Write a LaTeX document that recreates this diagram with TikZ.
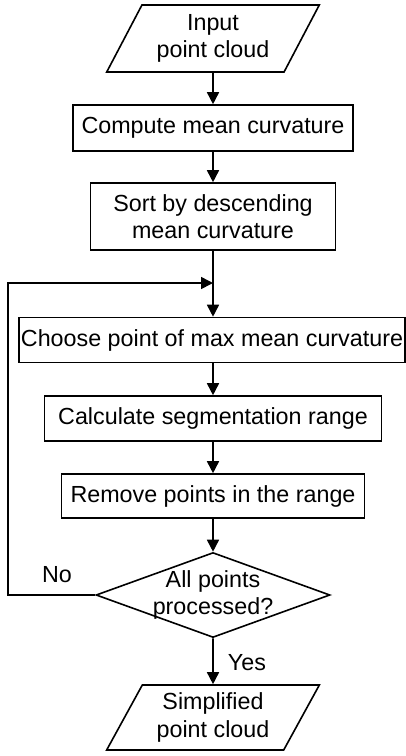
\documentclass[tikz,border=0pt]{standalone}
\usepackage{fontspec}
\setmainfont{Liberation Sans}
\usepackage{tikz}
\usetikzlibrary{shapes.geometric,arrows.meta}

\begin{document}
\begin{tikzpicture}[x=1pt, y=-1pt, line width=1.6pt,
    >={Triangle[length=12pt,width=12pt]},
    every node/.style={font=\fontsize{23.3}{27.5}\selectfont, align=center},
    proc/.style={draw, rectangle, inner sep=0pt},
    io/.style={draw, trapezium, trapezium left angle=60, trapezium right angle=120,
      trapezium stretches=true, minimum width=213pt, inner sep=0pt}]
    \useasboundingbox (0,0) rectangle (406,756);
    % flow
    \node (inp) at (213,38.5) [io, minimum height=67pt] {Input\\point cloud};
    \node (comp) at (213,128) [proc, minimum width=280pt, minimum height=46pt] {Compute mean curvature};
    \node (sort) at (213,216.5) [proc, minimum width=245pt, minimum height=67pt] {Sort by descending\\mean curvature};
    \coordinate (join) at (213,283);
    \node (choose) at (212,340) [proc, minimum width=386pt, minimum height=45pt] {Choose point of max mean curvature};
    \node (calc) at (213,418.5) [proc, minimum width=337pt, minimum height=45pt] {Calculate segmentation range};
    \node (rem) at (213,496) [proc, minimum width=303pt, minimum height=44pt] {Remove points in the range};
    \node (chk) at (213,595) [draw, diamond, minimum width=234pt, minimum height=85pt, inner sep=0pt] {};
    \node (chktxt) at (chk) {All points\\processed?};
    \node (outp) at (213,717.5) [io, minimum height=65pt] {Simplified\\point cloud};
    \node (no) at (57,575) {No};
    \node (yes) at (247,663) {Yes};
    \coordinate (corner) at (8,595);
    % connectors
    \draw[->] (inp) -- (comp);
    \draw[->] (comp) -- (sort);
    \draw[->] (sort) -- (sort |- choose.north);
    \draw[->] (choose.south -| calc.north) -- (calc);
    \draw[->] (calc) -- (rem);
    \draw[->] (rem) -- (chk);
    \draw[->] (chk) -- (outp);
    \draw[->] (chk.west) -- (corner) |- (join);
\end{tikzpicture}
\end{document}
